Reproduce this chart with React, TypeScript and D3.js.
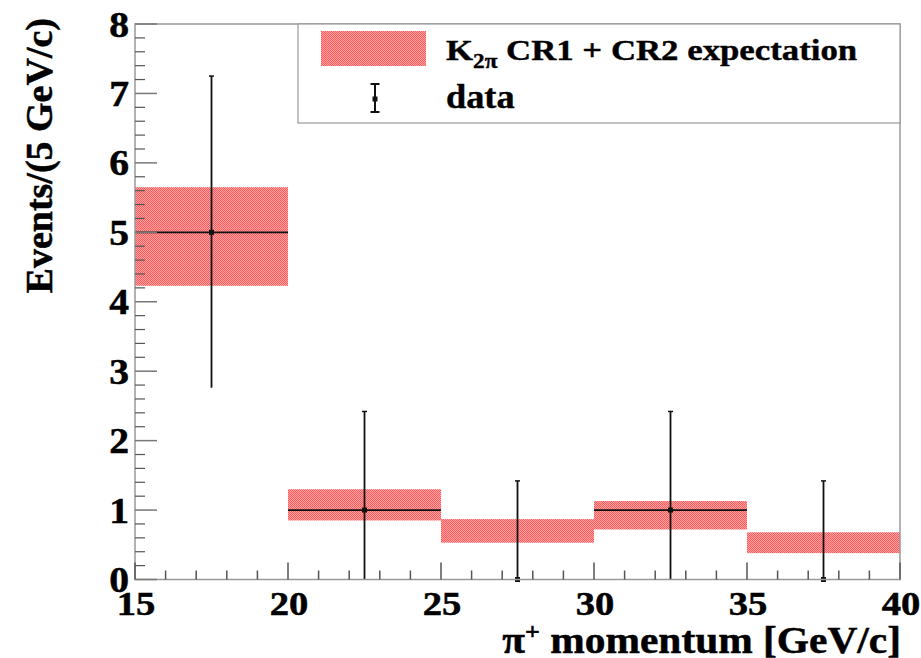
import React from "react";
import * as d3 from "d3";

// Bin edges of the pi+ momentum histogram [GeV/c]
const binLow = [15, 20, 25, 30, 35];
const binHigh = [20, 25, 30, 35, 40];
// K2pi CR1 + CR2 expectation band (lower / upper edge, events per bin)
const expLow = [4.23, 0.85, 0.53, 0.72, 0.38];
const expHigh = [5.65, 1.3, 0.87, 1.13, 0.68];
// Observed data with asymmetric errors
const dataX = [17.5, 22.5, 27.5, 32.5, 37.5];
const dataY = [5, 1, 0, 1, 0];
const dataErrLow = [2.24, 1, 0, 1, 0];
const dataErrHigh = [2.25, 1.42, 1.42, 1.42, 1.42];

const xTicks = [15, 20, 25, 30, 35, 40];
const yTicks = [0, 1, 2, 3, 4, 5, 6, 7, 8];

const W = 921;
const H = 658;
const FONT = "'Liberation Serif', 'Times New Roman', serif";

export default function App() {
  const x = d3.scaleLinear().domain([15, 40]).range([135, 900]);
  const y = d3.scaleLinear().domain([0, 8]).range([579.5, 24]);
  const [x0, x1] = x.range();
  const [y0, y1] = y.range();

  const xMinor = d3.range(15, 40.001, 1).filter((v) => !xTicks.includes(v));
  const yMinor = d3.range(0, 8.001, 0.2).filter((v) => Math.abs(v - Math.round(v)) > 1e-6);

  return (
    <div style={{ position: "absolute", left: 0, top: 0 }}>
      <svg width={W} height={H} style={{ display: "block", background: "#fff" }}>
        <defs>
          <pattern id="hatch" width="2" height="2" patternUnits="userSpaceOnUse">
            <rect width="2" height="2" fill="#ffa4a4" />
            <rect width="1" height="1" fill="#ff5a5a" />
            <rect x="1" y="1" width="1" height="1" fill="#ff5a5a" />
          </pattern>
        </defs>

        {/* expectation band */}
        {binLow.map((lo, i) => (
          <rect
            key={"e" + i}
            x={x(lo)}
            y={y(expHigh[i])}
            width={x(binHigh[i]) - x(lo)}
            height={y(expLow[i]) - y(expHigh[i])}
            fill="url(#hatch)"
          />
        ))}

        {/* data points with error bars */}
        {dataX.map((dx, i) => {
          const cx = x(dx);
          const cy = y(dataY[i]);
          const top = y(dataY[i] + dataErrHigh[i]);
          const bot = y(dataY[i] - dataErrLow[i]);
          return (
            <g key={"d" + i} stroke="#111" strokeWidth={1.8}>
              {dataY[i] > 0 && (
                <line x1={x(binLow[i])} x2={x(binHigh[i])} y1={cy} y2={cy} />
              )}
              <line x1={cx} x2={cx} y1={top} y2={bot} />
              <line x1={cx - 2.5} x2={cx + 2.5} y1={top} y2={top} strokeWidth={1.5} />
              <rect x={cx - 2.5} y={cy - 2.5} width={5} height={5} fill="#111" stroke="none" />
            </g>
          );
        })}

        {/* frame */}
        <rect x={x0} y={y1} width={x1 - x0} height={y0 - y1} fill="none" stroke="#999" strokeWidth={1.5} />

        {/* x axis ticks */}
        {xTicks.map((t) => (
          <line key={"xt" + t} x1={x(t)} x2={x(t)} y1={y0} y2={y0 - 17} stroke="#555" strokeWidth={1.5} />
        ))}
        {xMinor.map((t) => (
          <line key={"xm" + t} x1={x(t)} x2={x(t)} y1={y0} y2={y0 - 9} stroke="#555" strokeWidth={1.5} />
        ))}
        {/* y axis ticks */}
        {yTicks.map((t) => (
          <line key={"yt" + t} x1={x0} x2={x0 + 22} y1={y(t)} y2={y(t)} stroke="#777" strokeWidth={1.5} />
        ))}
        {yMinor.map((t) => (
          <line key={"ym" + t} x1={x0} x2={x0 + 10} y1={y(t)} y2={y(t)} stroke="#555" strokeWidth={1.2} />
        ))}

        {/* tick labels */}
        <g fontFamily={FONT} fontWeight="bold" fill="#000" stroke="#000" strokeWidth={0.5}>
          {xTicks.map((t) => (
            <text
              key={"xl" + t}
              transform={`translate(${x(t) + 1},615) scale(1.17,1)`}
              fontSize={33}
              textAnchor="middle"
            >
              {t}
            </text>
          ))}
          {yTicks.map((t) => (
            <text
              key={"yl" + t}
              transform={`translate(129,${y(t) + 12.5}) scale(1.1,1)`}
              fontSize={36}
              textAnchor="end"
            >
              {t}
            </text>
          ))}

          {/* axis titles */}
          <text transform="translate(901,653) scale(1.09,1)" fontSize={38} textAnchor="end">
            π<tspan dy={-14} fontSize={24}>+</tspan>
            <tspan dy={14}> momentum [GeV/c]</tspan>
          </text>
          <text transform="translate(52,18) rotate(-90)" fontSize={38} textAnchor="end">
            Events/(5 GeV/c)
          </text>
        </g>

        {/* legend */}
        <rect x={298} y={y1} width={x1 - 298} height={99} fill="#fff" stroke="#999" strokeWidth={1.2} />
        <rect x={321} y={31} width={105} height={35} fill="url(#hatch)" />
        <g stroke="#111" strokeWidth={2}>
          <line x1={375} x2={375} y1={84} y2={112} />
          <line x1={370.5} x2={379.5} y1={84} y2={84} />
          <line x1={370.5} x2={379.5} y1={112} y2={112} />
          <rect x={372.5} y={96.5} width={5} height={5} fill="#111" stroke="none" />
        </g>
        <g fontFamily={FONT} fontWeight="bold" fill="#000" stroke="#000" strokeWidth={0.4}>
          <text transform="translate(446,60) scale(1.16,1)" fontSize={30}>
            K<tspan dy={8} fontSize={20}>2π</tspan>
            <tspan dy={-8}> CR1 + CR2 expectation</tspan>
          </text>
          <text transform="translate(446,108) scale(1.1,1)" fontSize={33}>
            data
          </text>
        </g>
      </svg>
    </div>
  );
}
